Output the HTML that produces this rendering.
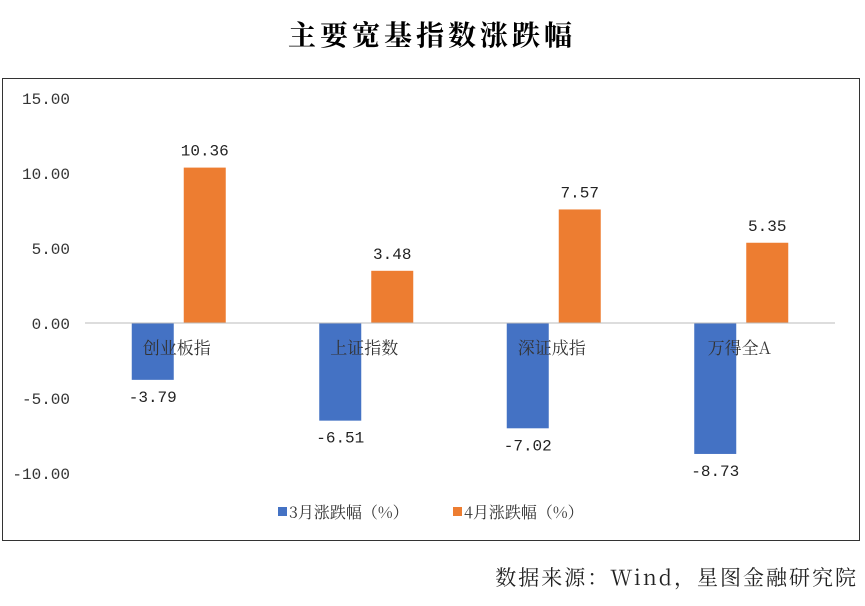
<!DOCTYPE html>
<html><head><meta charset="utf-8">
<style>
body{margin:0;background:#fff;width:865px;height:601px;overflow:hidden;font-family:"Liberation Mono","Noto Serif CJK SC",serif;}
</style></head>
<body>
<svg id="c" width="865" height="601" xmlns="http://www.w3.org/2000/svg">
<text x="432" y="45" text-anchor="middle" font-size="28" letter-spacing="4" font-weight="bold" font-family="Noto Serif CJK SC, serif" fill="#000">主要宽基指数涨跌幅</text>
<rect x="2.5" y="78.5" width="857" height="462" fill="none" stroke="#333" stroke-width="1"/>
<g id="plot"></g>
<text x="858" y="585" text-anchor="end" font-size="21" letter-spacing="2" font-family="Noto Serif CJK SC, serif" fill="#222">数据来源：Wind，星图金融研究院</text>
</svg>
<script>
const categories=["创业板指","上证指数","深证成指","万得全A"];
const marchValues=[-3.79,-6.51,-7.02,-8.73];
const aprilValues=[10.36,3.48,7.57,5.35];
const yTicks=[15,10,5,0,-5,-10];
const seriesNames=["3月涨跌幅（%）","4月涨跌幅（%）"];
const colors=["#4472C4","#ED7D31"];
const NS="http://www.w3.org/2000/svg";
const g=document.getElementById('plot');
const y=v=>323-v*15;
const x0=85,x1=835,bw=(x1-x0)/categories.length;
function mk(t,a,txt){const e=document.createElementNS(NS,t);for(const k in a)e.setAttribute(k,a[k]);if(txt!==undefined)e.textContent=txt;g.appendChild(e);return e;}
yTicks.forEach(t=>{const e=mk('text',{x:70,y:y(t)+6,'text-anchor':'end','font-size':16,fill:'#333'},t.toFixed(2));

});
categories.forEach((c,i)=>{
const cx=x0+bw*(i+0.5);
const vals=[marchValues[i],aprilValues[i]];
vals.forEach((v,s)=>{
const bx=cx-47+s*52;
const r=mk('rect',{x:bx,y:Math.min(y(v),y(0)),width:42,height:Math.abs(y(v)-y(0)),fill:colors[s]});


const ly=v>=0?y(v)-12:y(v)+22;
const l=mk('text',{x:bx+21,y:ly,'text-anchor':'middle','font-size':16,fill:'#222'},v.toFixed(2));


});
const ct=mk('text',{x:cx-2,y:354,'text-anchor':'middle','font-size':17,fill:'#333','font-family':'Noto Serif CJK SC, serif'},c);


});
const ax=mk('line',{x1:x0,x2:x1,y1:y(0),y2:y(0),stroke:'#bbb','stroke-width':1});


seriesNames.forEach((n,s)=>{
const lx=278+s*175;
const sw=mk('rect',{x:lx,y:507,width:9,height:9,fill:colors[s]});


const t=mk('text',{x:lx+11,y:518,'font-size':16,fill:'#333','font-family':'Noto Serif CJK SC, serif'},n);


});
</script>
</body></html>
